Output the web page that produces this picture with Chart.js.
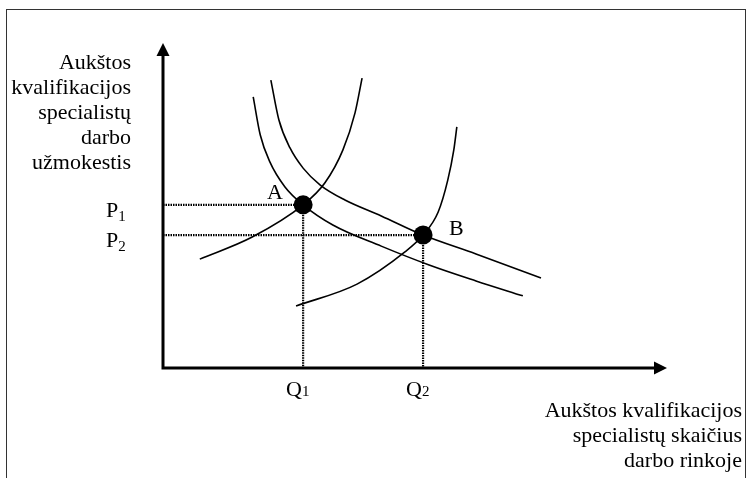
<!DOCTYPE html>
<html lang="lt">
<head>
<meta charset="UTF-8">
<title>Aukštos kvalifikacijos specialistų darbo rinka</title>
<script src="https://cdn.jsdelivr.net/npm/chart.js"></script>
<style>
    html, body { margin: 0; padding: 0; background: #fff; }
    #wrap { position: relative; width: 747px; height: 478px; overflow: hidden; }
    #frame {
        position: absolute; left: 6px; top: 9px; right: 1px; bottom: -5px;
        border: 1px solid #333; border-bottom: none;
    }
    canvas { position: absolute; left: 0; top: 0; }
</style>
</head>
<body>

<div id="wrap">
    <div id="frame"></div>
    <canvas id="chart" width="747" height="478"></canvas>
</div>

<script>
    // sąlyginiai vienetai: kiekis 0..100, užmokestis 0..100
    const supply1 = [
        {x: 7.3, y: 33.5}, {x: 17.7, y: 40.3}, {x: 27.8, y: 50.2}, {x: 32.1, y: 56.9},
        {x: 35.7, y: 67.1}, {x: 38.1, y: 78.5}, {x: 39.5, y: 89.2}
    ];
    const supply2 = [
        {x: 26.4, y: 19.1}, {x: 38.5, y: 25.8}, {x: 48.0, y: 35.7}, {x: 51.6, y: 40.9},
        {x: 54.6, y: 48.0}, {x: 56.5, y: 57.8}, {x: 57.7, y: 67.1}, {x: 58.3, y: 74.2}
    ];
    const demand1 = [
        {x: 17.9, y: 83.4}, {x: 19.3, y: 71.7}, {x: 21.2, y: 63.4}, {x: 24.2, y: 55.7},
        {x: 27.8, y: 50.2}, {x: 33.7, y: 44.0}, {x: 43.3, y: 37.5}, {x: 52.8, y: 31.7},
        {x: 62.1, y: 26.8}, {x: 71.4, y: 22.2}
    ];
    const demand2 = [
        {x: 21.4, y: 88.6}, {x: 23.0, y: 76.3}, {x: 25.2, y: 67.7}, {x: 27.8, y: 61.5},
        {x: 31.2, y: 56.3}, {x: 36.1, y: 51.7}, {x: 43.3, y: 46.8}, {x: 51.6, y: 40.9},
        {x: 62.1, y: 35.1}, {x: 75.0, y: 27.7}
    ];

    // pusiausvyros taškai
    const pointNames = ['A', 'B'];
    const quantities = [27.8, 51.6];   // Q1, Q2
    const prices = [50.2, 40.9];       // P1, P2

    // ašių žymės
    const priceTicks = ['P', 'P'];
    const quantityTicks = ['Q', 'Q'];
    const tickSubs = ['1', '2'];

    const yTitle = ['Aukštos', 'kvalifikacijos', 'specialistų', 'darbo', 'užmokestis'];
    const xTitle = ['Aukštos kvalifikacijos', 'specialistų skaičius', 'darbo rinkoje'];

    const FONT = '"Liberation Serif", "Times New Roman", serif';

    function curve(data) {
        return {
            data: data, showLine: true, pointRadius: 0, borderColor: '#000',
            borderWidth: 1.6, cubicInterpolationMode: 'monotone', fill: false
        };
    }

    function guide(i) {
        return {
            data: [{x: 0, y: prices[i]}, {x: quantities[i], y: prices[i]}, {x: quantities[i], y: 0}],
            showLine: true, pointRadius: 0, borderColor: '#000', borderWidth: 2.2,
            borderDash: [1.5, 1], tension: 0, fill: false
        };
    }

    // ašys su rodyklėmis ir visi užrašai
    const diagramPlugin = {
        id: 'diagram',
        beforeDatasetsDraw(chart) {
            const ctx = chart.ctx, xs = chart.scales.x, ys = chart.scales.y;
            const x0 = xs.getPixelForValue(0), y0 = ys.getPixelForValue(0);
            const xEnd = xs.getPixelForValue(xs.max), yEnd = ys.getPixelForValue(ys.max);
            ctx.save();
            ctx.strokeStyle = '#000';
            ctx.fillStyle = '#000';
            ctx.lineWidth = 3;
            ctx.beginPath();
            ctx.moveTo(x0, y0 + 1.5);
            ctx.lineTo(x0, yEnd + 10);
            ctx.moveTo(x0 - 1.5, y0);
            ctx.lineTo(xEnd - 10, y0);
            ctx.stroke();
            ctx.beginPath();
            ctx.moveTo(x0, yEnd);
            ctx.lineTo(x0 - 6.5, yEnd + 13);
            ctx.lineTo(x0 + 6.5, yEnd + 13);
            ctx.closePath();
            ctx.fill();
            ctx.beginPath();
            ctx.moveTo(xEnd, y0);
            ctx.lineTo(xEnd - 13, y0 - 6.5);
            ctx.lineTo(xEnd - 13, y0 + 6.5);
            ctx.closePath();
            ctx.fill();
            ctx.restore();
        },
        afterDraw(chart) {
            const ctx = chart.ctx, xs = chart.scales.x, ys = chart.scales.y;
            const y0 = ys.getPixelForValue(0);
            ctx.save();
            ctx.fillStyle = '#000';
            ctx.textBaseline = 'alphabetic';

            ctx.font = '22px ' + FONT;
            ctx.textAlign = 'right';
            yTitle.forEach((t, i) => ctx.fillText(t, 131, 69 + i * 25));
            xTitle.forEach((t, i) => ctx.fillText(t, 742, 417 + i * 25));

            // P ir Q su indeksais
            ctx.textAlign = 'left';
            prices.forEach((p, i) => {
                const py = ys.getPixelForValue(p) + 12;
                ctx.font = '22px ' + FONT;
                ctx.fillText(priceTicks[i], 106, py);
                const w = ctx.measureText(priceTicks[i]).width;
                ctx.font = '15px ' + FONT;
                ctx.fillText(tickSubs[i], 106 + w, py + 4);
            });
            quantities.forEach((q, i) => {
                const qx = xs.getPixelForValue(q) - 17;
                ctx.font = '22px ' + FONT;
                ctx.fillText(quantityTicks[i], qx, y0 + 28);
                const w = ctx.measureText(quantityTicks[i]).width;
                ctx.font = '15px ' + FONT;
                ctx.fillText(tickSubs[i], qx + w, y0 + 28);
            });

            // taškų raidės
            const offs = [[-36, -6], [26, 0]];
            ctx.font = '22px ' + FONT;
            pointNames.forEach((n, i) => {
                const px = xs.getPixelForValue(quantities[i]);
                const py = ys.getPixelForValue(prices[i]);
                ctx.fillText(n, px + offs[i][0], py + offs[i][1]);
            });
            ctx.restore();
        }
    };

    const ctx = document.getElementById('chart').getContext('2d');
    new Chart(ctx, {
        type: 'scatter',
        data: {
            datasets: [
                guide(0), guide(1),
                curve(supply1), curve(supply2), curve(demand1), curve(demand2),
                {
                    data: quantities.map((q, i) => ({x: q, y: prices[i]})),
                    pointRadius: 9.5, pointBackgroundColor: '#000', pointBorderWidth: 0,
                    showLine: false
                }
            ]
        },
        options: {
            responsive: false,
            animation: false,
            devicePixelRatio: 1,
            layout: { padding: { left: 163, top: 43, right: 80, bottom: 110 } },
            plugins: { legend: { display: false }, tooltip: { enabled: false } },
            scales: {
                x: { type: 'linear', min: 0, max: 100, display: false },
                y: { type: 'linear', min: 0, max: 100, display: false }
            }
        },
        plugins: [diagramPlugin]
    });
</script>

</body>
</html>
